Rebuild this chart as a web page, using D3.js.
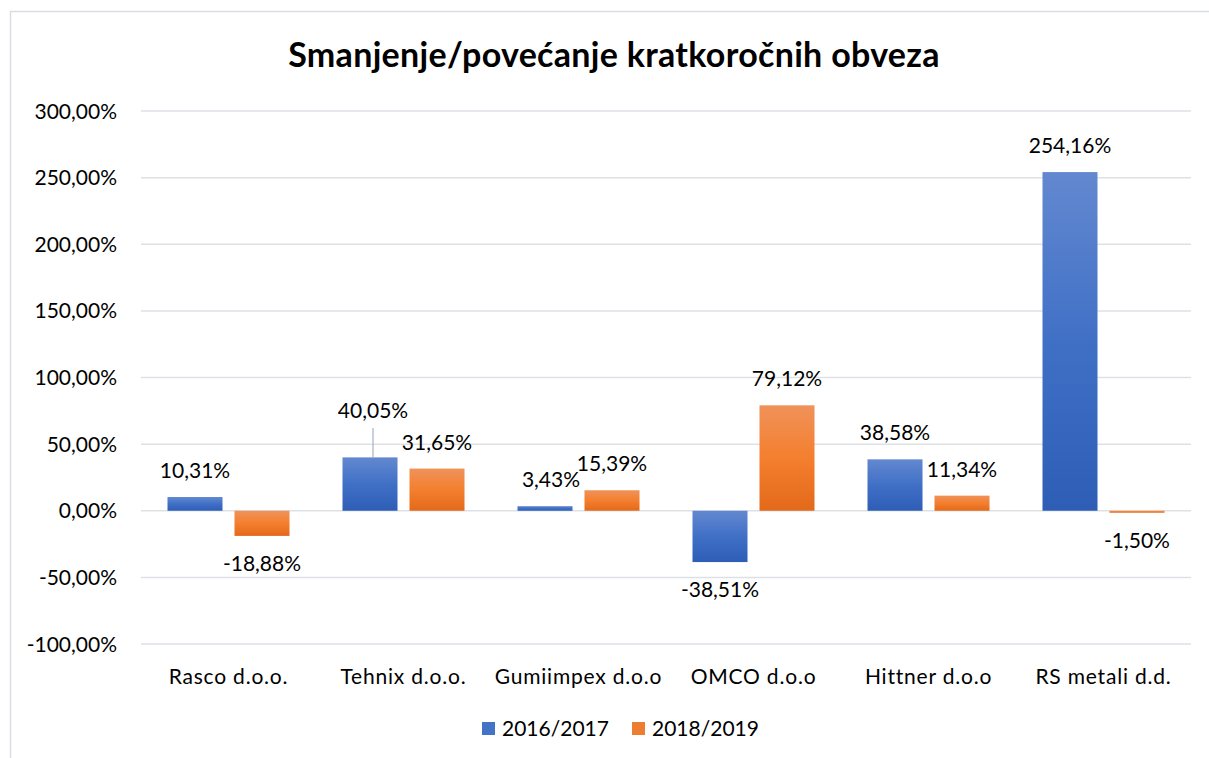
<!DOCTYPE html>
<html>
<head>
<meta charset="utf-8">
<script src="https://cdn.jsdelivr.net/npm/d3@7"></script>
<style>
  body { margin: 0; background: #fff; }
  svg { display: block; font-family: Lato, "Noto Sans", sans-serif; }
</style>
</head>
<body>
<svg id="chart"></svg>
<script>
// chart data
const categories = ["Rasco d.o.o.", "Tehnix d.o.o.", "Gumiimpex d.o.o", "OMCO d.o.o", "Hittner d.o.o", "RS metali d.d."];
const seriesNames = ["2016/2017", "2018/2019"];
const values2016 = [10.31, 40.05, 3.43, -38.51, 38.58, 254.16];
const values2018 = [-18.88, 31.65, 15.39, 79.12, 11.34, -1.50];
const yTicks = [-100, -50, 0, 50, 100, 150, 200, 250, 300];

const W = 1209, H = 758;
const svg = d3.select("#chart").attr("width", W).attr("height", H);

// gradients
const defs = svg.append("defs");
const grads = [
  { id: "gBlue", stops: ["#6388d0", "#4070c6", "#2e5db6"] },
  { id: "gOrange", stops: ["#f0925a", "#f47f2e", "#e3691b"] }
];
grads.forEach(g => {
  const lg = defs.append("linearGradient").attr("id", g.id)
    .attr("x1", 0).attr("y1", 0).attr("x2", 0).attr("y2", 1);
  g.stops.forEach((c, i) => lg.append("stop").attr("offset", i / (g.stops.length - 1)).attr("stop-color", c));
});
const fills = ["url(#gBlue)", "url(#gOrange)"];
const legendColors = ["#4472c4", "#ed7d31"];

// frame
svg.append("rect")
  .attr("x", 10.5).attr("y", 11.5)
  .attr("width", 1220).attr("height", 760)
  .attr("fill", "#fff").attr("stroke", "#d9dde3").attr("stroke-width", 1.5);

// title
svg.append("text")
  .attr("x", 614).attr("y", 67)
  .attr("text-anchor", "middle")
  .style("font-size", "34px")
  .style("font-weight", "bold")
  .style("letter-spacing", "0.3px")
  .attr("fill", "#000")
  .text("Smanjenje/povećanje kratkoročnih obveza");

const left = 141, right = 1191;
const y = d3.scaleLinear().domain([-100, 300]).range([644, 111]);
const x0 = d3.scaleBand().domain(categories).range([left, right]);
const x1 = d3.scaleBand().domain(seriesNames)
  .range([26.5, x0.bandwidth() - 26.5]).paddingInner(0.179);

const pct = v => (v < 0 ? "-" : "") + d3.format(".2f")(Math.abs(v)).replace(".", ",") + "%";

// grid
svg.append("g").selectAll("line").data(yTicks).enter().append("line")
  .attr("x1", left).attr("x2", right)
  .attr("y1", d => y(d)).attr("y2", d => y(d))
  .attr("stroke", "#dde1e6").attr("stroke-width", 1.5);

// y axis labels
svg.append("g").selectAll("text").data(yTicks).enter().append("text")
  .attr("x", 117).attr("y", d => y(d) + 7.5)
  .attr("text-anchor", "end")
  .style("font-size", "21px")
  .attr("fill", "#000")
  .text(d => pct(d));

// x labels
svg.append("g").selectAll("text").data(categories).enter().append("text")
  .attr("x", d => x0(d) + x0.bandwidth() / 2).attr("y", 684)
  .attr("text-anchor", "middle")
  .style("font-size", "21px")
  .style("letter-spacing", "0.8px")
  .attr("fill", "#000")
  .text(d => d);

const series = [values2016, values2018];
const groups = svg.append("g").selectAll("g").data(categories).enter().append("g")
  .attr("transform", d => `translate(${x0(d)},0)`);

groups.selectAll("rect")
  .data((d, i) => seriesNames.map((s, j) => ({ s, j, v: series[j][i] })))
  .enter().append("rect")
  .attr("x", d => x1(d.s))
  .attr("y", d => y(Math.max(0, d.v)))
  .attr("width", x1.bandwidth())
  .attr("height", d => Math.abs(y(d.v) - y(0)))
  .attr("fill", d => fills[d.j]);

// data labels
groups.selectAll("text")
  .data((d, i) => seriesNames.map((s, j) => ({ s, j, v: series[j][i], cat: d })))
  .enter().append("text")
  .attr("x", d => {
    let cx = x1(d.s) + x1.bandwidth() / 2;
    if (d.cat === "Tehnix d.o.o." && d.j === 0) cx += 3;
    if (d.cat === "Gumiimpex d.o.o" && d.j === 0) cx += 6;
    return cx;
  })
  .attr("y", d => {
    if (d.cat === "Tehnix d.o.o." && d.j === 0) return 418;
    return d.v >= 0 ? y(d.v) - 19 : y(d.v) + 35;
  })
  .attr("text-anchor", "middle")
  .style("font-size", "21px")
  .attr("fill", "#000")
  .text(d => pct(d.v));

// leader line for moved Tehnix label
const lx = x0("Tehnix d.o.o.") + x1("2016/2017") + x1.bandwidth() / 2 + 3;
svg.append("line")
  .attr("x1", lx).attr("x2", lx)
  .attr("y1", 428).attr("y2", y(values2016[1]))
  .attr("stroke", "#a6b3c6").attr("stroke-width", 1.2);

// legend
const legend = svg.append("g");
const legX = [482, 632];
seriesNames.forEach((s, i) => {
  legend.append("rect")
    .attr("x", legX[i]).attr("y", 722).attr("width", 13).attr("height", 13)
    .attr("fill", legendColors[i]);
  legend.append("text")
    .attr("x", legX[i] + 20).attr("y", 736)
    .style("font-size", "21px")
    .attr("fill", "#000")
    .text(s);
});
</script>
</body>
</html>
